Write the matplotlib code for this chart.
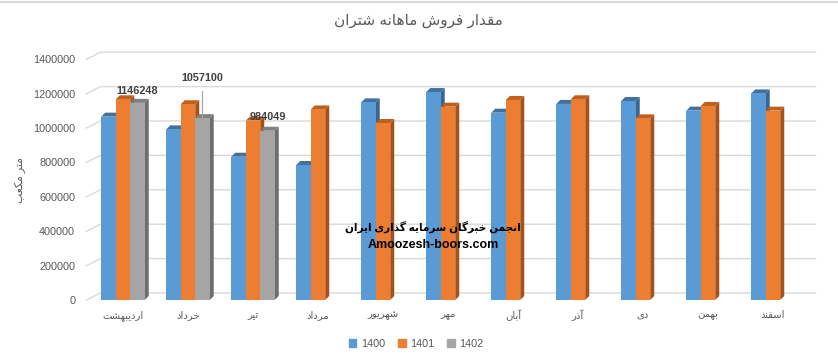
import numpy as np
import matplotlib
matplotlib.use("Agg")
import matplotlib.pyplot as plt
from matplotlib.patches import Polygon
from matplotlib.lines import Line2D

plt.rcParams['font.family'] = ['Liberation Sans', 'DejaVu Sans']

# --- data ---
months = ["اردیبهشت", "خرداد", "تیر", "مرداد", "شهریور", "مهر", "آبان", "آذر", "دی", "بهمن", "اسفند"]
series_names = ["1400", "1401", "1402"]
s1400 = [1066000, 992000, 833000, 785000, 1149000, 1209000, 1089000, 1140000, 1157000, 1101000, 1201000]
s1401 = [1167000, 1138000, 1043000, 1108000, 1029000, 1124000, 1163000, 1167000, 1056000, 1128000, 1101000]
s1402 = [1146248, 1057100, 984049]
yticks = [0, 200000, 400000, 600000, 800000, 1000000, 1200000, 1400000]
title = "مقدار فروش ماهانه شتران"
ylabel = "متر مکعب"
watermark = "انجمن خبرگان سرمایه گذاری ایران"
site = "Amoozesh-boors.com"

# --- simple arabic/persian shaping (presentation forms + reversal) ---
FORMS = {
    'ا': (0xFE8D, 0xFE8E, None, None), 'آ': (0xFE81, 0xFE82, None, None),
    'ب': (0xFE8F, 0xFE90, 0xFE91, 0xFE92), 'ت': (0xFE95, 0xFE96, 0xFE97, 0xFE98),
    'ج': (0xFE9D, 0xFE9E, 0xFE9F, 0xFEA0), 'خ': (0xFEA5, 0xFEA6, 0xFEA7, 0xFEA8),
    'د': (0xFEA9, 0xFEAA, None, None), 'ذ': (0xFEAB, 0xFEAC, None, None),
    'ر': (0xFEAD, 0xFEAE, None, None), 'ز': (0xFEAF, 0xFEB0, None, None),
    'س': (0xFEB1, 0xFEB2, 0xFEB3, 0xFEB4), 'ش': (0xFEB5, 0xFEB6, 0xFEB7, 0xFEB8),
    'ع': (0xFEC9, 0xFECA, 0xFECB, 0xFECC), 'ف': (0xFED1, 0xFED2, 0xFED3, 0xFED4),
    'ق': (0xFED5, 0xFED6, 0xFED7, 0xFED8), 'ک': (0xFB8E, 0xFB8F, 0xFB90, 0xFB91),
    'گ': (0xFB92, 0xFB93, 0xFB94, 0xFB95), 'ل': (0xFEDD, 0xFEDE, 0xFEDF, 0xFEE0),
    'م': (0xFEE1, 0xFEE2, 0xFEE3, 0xFEE4), 'ن': (0xFEE5, 0xFEE6, 0xFEE7, 0xFEE8),
    'ه': (0xFEE9, 0xFEEA, 0xFEEB, 0xFEEC), 'و': (0xFEED, 0xFEEE, None, None),
    'ی': (0xFBFC, 0xFBFD, 0xFBFE, 0xFBFF),
}


def shape(s):
    out = []
    for i, ch in enumerate(s):
        f = FORMS.get(ch)
        if f is None:
            out.append(ch)
            continue
        prev = s[i - 1] if i > 0 else ''
        nxt = s[i + 1] if i + 1 < len(s) else ''
        pj = prev in FORMS and FORMS[prev][2] is not None
        nj = nxt in FORMS and f[2] is not None
        if pj and nj:
            code = f[3]
        elif pj:
            code = f[1]
        elif nj:
            code = f[2]
        else:
            code = f[0]
        out.append(chr(code))
    return ''.join(reversed(out))


# --- figure ---
fig = plt.figure(figsize=(8.38, 3.56), dpi=100)
W, H = 838, 356
x0px, x1px = 90.5, 805.5
y0px = 300.0
pxm = 172.0 / 1e6  # pixels per unit value
ymax = 1400000
ax = fig.add_axes([x0px / W, (H - y0px) / H, (x1px - x0px) / W, ymax * pxm / H])
ax.set_xlim(-0.5, len(months) - 0.5)
ax.set_ylim(0, ymax)
for s in ax.spines.values():
    s.set_visible(False)

ux = 1 / 65.0          # category units per pixel
uy = 1 / pxm           # value units per pixel

# back-wall gridlines with side-wall diagonal
grid_c = '#d9d9d9'
for v in yticks:
    xs = [-0.5 - 4 * ux, -0.5 + 10 * ux, len(months) - 0.5 + 10 * ux]
    ys = [v, v + 7 * uy, v + 7 * uy]
    ax.add_line(Line2D(xs, ys, color=grid_c, lw=1.0, clip_on=False, zorder=0))

colors = ['#5B9BD5', '#ED7D31', '#A5A5A5']
tops = ['#41719C', '#C0601E', '#808080']
sides = ['#3A6690', '#A5511A', '#6E6E6E']
data = [s1400, s1401, s1402]
bw = 14.5 * ux
dx, dy = 4 * ux, 4 * uy
x = np.arange(len(months))
for k, vals in enumerate(data):
    xs = x[:len(vals)] + (k - 1) * bw
    ax.bar(xs, vals, width=bw, color=colors[k], zorder=2 + 2 * k, linewidth=0)
    for xc, v in zip(xs, vals):
        l, r = xc - bw / 2, xc + bw / 2
        ax.add_patch(Polygon([(r, 0), (r + dx, dy), (r + dx, v + dy), (r, v)],
                             closed=True, fc=sides[k], ec='none', zorder=1 + 2 * k, clip_on=False))
        ax.add_patch(Polygon([(l, v), (r, v), (r + dx, v + dy), (l + dx, v + dy)],
                             closed=True, fc=tops[k], ec='none', zorder=1 + 2 * k, clip_on=False))

# data labels for 1402
lab_off = [12, 40, 14]
for i, v in enumerate(s1402):
    xc = x[i] + bw
    if lab_off[i] > 20:
        ax.annotate(str(v), xy=(xc, v), xytext=(xc, v + lab_off[i] * uy),
                    ha='center', va='center', fontsize=7.8, fontweight='bold', color='#404040',
                    arrowprops=dict(arrowstyle='-', color='#a6a6a6', lw=0.9, shrinkA=4, shrinkB=0),
                    zorder=10)
    else:
        ax.text(xc, v + lab_off[i] * uy, str(v), ha='center', va='center', fontsize=7.8,
                fontweight='bold', color='#404040', zorder=10)

ax.set_yticks(yticks)
ax.set_yticklabels([str(t) for t in yticks])
ax.set_xticks(x)
ax.set_xticklabels([shape(m) for m in months])
ax.tick_params(axis='y', length=0, pad=11, labelsize=7.8, labelcolor='#595959')
ax.tick_params(axis='x', length=0, pad=7, labelsize=7.2, labelcolor='#595959')

fig.text(418 / W, 1 - 21 / H, shape(title), ha='center', va='center', fontsize=11, color='#595959')
fig.text(20 / W, 1 - 180 / H, shape(ylabel), ha='center', va='center', rotation=90,
         fontsize=7.8, color='#595959')
fig.text(433 / W, 1 - 227 / H, shape(watermark), ha='center', va='center', fontsize=7.6,
         fontweight='bold', color='black', zorder=20)
fig.text(433 / W, 1 - 245 / H, site, ha='center', va='center', fontsize=9,
         fontweight='bold', color='black', zorder=20)

# top border
fig.add_artist(Line2D([0, 1], [1 - 1.5 / H, 1 - 1.5 / H], transform=fig.transFigure, color='#d9d9d9', lw=1.5))

handles = [plt.Rectangle((0, 0), 1, 1, color=c) for c in colors]
fig.legend(handles, series_names, loc='center', bbox_to_anchor=(416 / W, 1 - 344 / H), ncol=3,
           frameon=False, fontsize=7.8, labelcolor='#595959', handlelength=0.7, handleheight=0.7,
           handletextpad=0.4, columnspacing=1.2)

fig.savefig('out.png', dpi=100)
